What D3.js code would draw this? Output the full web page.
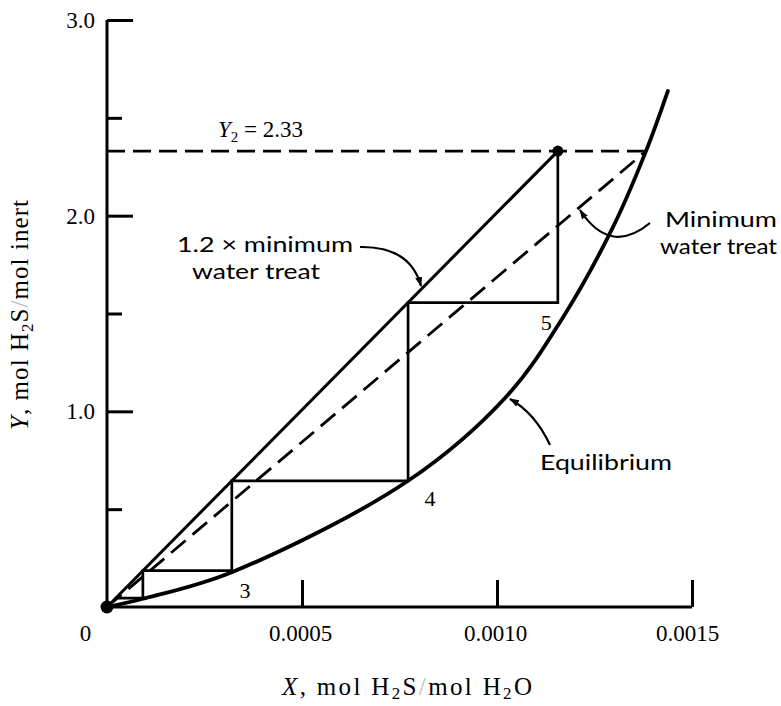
<!DOCTYPE html>
<html>
<head>
<meta charset="utf-8">
<script src="https://cdn.jsdelivr.net/npm/d3@7"></script>
<style>
  html, body { margin: 0; padding: 0; background: #fff; }
  svg { display: block; }
</style>
</head>
<body>
<svg id="chart" width="781" height="706"></svg>
<script>
// ---------- data ----------
const xTicks = [0, 0.0005, 0.0010, 0.0015];
const xTickLabels = ["0", "0.0005", "0.0010", "0.0015"];
const yTicks = [0.5, 1.0, 1.5, 2.0, 2.5, 3.0];
const yTickLabels = ["", "1.0", "", "2.0", "", "3.0"];

// equilibrium curve
const eqX = [0, 0.000092, 0.00032, 0.000772, 0.001026, 0.001169, 0.001297, 0.001382, 0.001438];
const eqY = [0, 0.042, 0.178, 0.645, 1.08, 1.48, 1.94, 2.33, 2.637];

// operating line at 1.2 x minimum water treat
const opX = [0, 0.001156];
const opY = [0, 2.33];

// minimum water treat line
const minX = [0, 0.001382];
const minY = [0, 2.33];

// Y2 value
const Y2 = 2.33;

// stage staircase
const stepX = [0.000025, 0.000092, 0.000092, 0.00032, 0.00032, 0.000772, 0.000772, 0.001156, 0.001156];
const stepY = [0.045, 0.045, 0.186, 0.186, 0.645, 0.645, 1.556, 1.556, 2.33];

// stage numbers
const stageLabels = ["3", "4", "5"];
const stageLabelX = [0.000354, 0.000828, 0.001126];
const stageLabelY = [0.087, 0.557, 1.456];

// ---------- drawing ----------
const svg = d3.select("#chart");
svg.append("rect").attr("width", 781).attr("height", 706).attr("fill", "#fff");

const x = d3.scaleLinear().domain([0, 0.0015]).range([107, 692]);
const y = d3.scaleLinear().domain([0, 3]).range([607, 20]);

const serif = "'Liberation Serif', 'Times New Roman', serif";
const sans = "Lato, 'Open Sans', sans-serif";

const defs = svg.append("defs");
defs.append("marker")
  .attr("id", "arrow")
  .attr("viewBox", "0 0 10 10")
  .attr("refX", 9).attr("refY", 5)
  .attr("markerWidth", 10).attr("markerHeight", 10)
  .attr("markerUnits", "userSpaceOnUse")
  .attr("orient", "auto")
  .append("path").attr("d", "M0,1.5 L10,5 L0,8.5 Z").attr("fill", "#000");

// Y axis
const yAxis = d3.axisLeft(y)
  .tickValues(yTicks)
  .tickSizeInner(-26)
  .tickSizeOuter(0)
  .tickPadding(12)
  .tickFormat((d, i) => yTickLabels[i]);
const gy = svg.append("g").attr("transform", "translate(107,0)").call(yAxis);
gy.select(".domain").attr("stroke", "#000").attr("stroke-width", 3)
  .attr("d", `M0,${y(0)}V${y(3)}`);
gy.selectAll(".tick line").attr("stroke", "#000").attr("stroke-width", 3)
  .attr("x2", (d, i) => yTickLabels[i] === "" ? 15 : 26);
gy.selectAll(".tick text")
  .attr("font-family", serif).attr("font-size", 23).attr("fill", "#000")
  .attr("x", -12);

// X axis
const xAxis = d3.axisBottom(x)
  .tickValues(xTicks)
  .tickSizeInner(-27)
  .tickSizeOuter(0)
  .tickPadding(10)
  .tickFormat((d, i) => xTickLabels[i]);
const gx = svg.append("g").attr("transform", `translate(0,${y(0)})`).call(xAxis);
gx.select(".domain").attr("stroke", "#000").attr("stroke-width", 3)
  .attr("d", `M${x(0)},0H${x(0.0015)}`);
gx.selectAll(".tick line").attr("stroke", "#000").attr("stroke-width", 3)
  .attr("y2", d => d === 0 ? 0 : -27);
gx.selectAll(".tick text")
  .attr("font-family", serif).attr("font-size", 23).attr("fill", "#000")
  .attr("y", 34).attr("dy", 0)
  .attr("x", d => d === 0 ? -22 : (d === 0.0015 ? -5 : -2));

// Axis titles
const yt = svg.append("text")
  .attr("transform", "translate(28,315) rotate(-90)")
  .attr("text-anchor", "middle")
  .attr("font-family", serif).attr("font-size", 25).attr("fill", "#000")
  .attr("textLength", 230).attr("lengthAdjust", "spacing");
yt.append("tspan").attr("font-style", "italic").text("Y");
yt.append("tspan").text(", mol H");
yt.append("tspan").attr("font-size", 17).attr("dy", 5).text("2");
yt.append("tspan").attr("dy", -5).text("S");
yt.append("tspan").attr("fill", "#bbb").text("/");
yt.append("tspan").text("mol inert");

const xt = svg.append("text")
  .attr("x", 407).attr("y", 695)
  .attr("text-anchor", "middle")
  .attr("font-family", serif).attr("font-size", 25).attr("fill", "#000")
  .attr("textLength", 250).attr("lengthAdjust", "spacing");
xt.append("tspan").attr("font-style", "italic").text("X");
xt.append("tspan").text(", mol H");
xt.append("tspan").attr("font-size", 17).attr("dy", 4).text("2");
xt.append("tspan").attr("dy", -4).text("S");
xt.append("tspan").attr("fill", "#bbb").text("/");
xt.append("tspan").text("mol H");
xt.append("tspan").attr("font-size", 17).attr("dy", 4).text("2");
xt.append("tspan").attr("dy", -4).text("O");

// Y2 dashed line
svg.append("line")
  .attr("x1", x(0)).attr("x2", x(minX[1]))
  .attr("y1", y(Y2)).attr("y2", y(Y2))
  .attr("stroke", "#000").attr("stroke-width", 2.6)
  .attr("stroke-dasharray", "18,8");

// minimum water line (dashed)
const lineGen = d3.line().x(d => x(d[0])).y(d => y(d[1]));
svg.append("path")
  .attr("d", lineGen(minX.map((v, i) => [v, minY[i]])))
  .attr("fill", "none").attr("stroke", "#000").attr("stroke-width", 2.8)
  .attr("stroke-dasharray", "19,9");

// operating line
svg.append("path")
  .attr("d", lineGen(opX.map((v, i) => [v, opY[i]])))
  .attr("fill", "none").attr("stroke", "#000").attr("stroke-width", 3);

// equilibrium curve
const eqLine = d3.line().x(d => x(d[0])).y(d => y(d[1])).curve(d3.curveCatmullRom.alpha(0.5));
svg.append("path")
  .attr("d", eqLine(eqX.map((v, i) => [v, eqY[i]])))
  .attr("fill", "none").attr("stroke", "#000").attr("stroke-width", 3.8)
  .attr("stroke-linecap", "round");

// staircase
svg.append("path")
  .attr("d", lineGen(stepX.map((v, i) => [v, stepY[i]])))
  .attr("fill", "none").attr("stroke", "#000").attr("stroke-width", 2.7)
  .attr("stroke-linejoin", "miter");

// dots
svg.append("circle").attr("cx", x(0)).attr("cy", y(0)).attr("r", 6.5).attr("fill", "#000");
svg.append("circle").attr("cx", x(opX[1])).attr("cy", y(opY[1])).attr("r", 5.5).attr("fill", "#000");

// stage labels
svg.selectAll("text.stage").data(stageLabels).enter().append("text")
  .attr("class", "stage")
  .attr("x", (d, i) => x(stageLabelX[i]))
  .attr("y", (d, i) => y(stageLabelY[i]))
  .attr("dy", "0.35em")
  .attr("text-anchor", "middle")
  .attr("font-family", serif).attr("font-size", 22).attr("fill", "#000")
  .text(d => d);

// Y2 label
const y2t = svg.append("text")
  .attr("x", 218).attr("y", 137)
  .attr("font-family", serif).attr("font-size", 23).attr("fill", "#000");
y2t.append("tspan").attr("font-style", "italic").text("Y");
y2t.append("tspan").attr("font-size", 15).attr("dy", 5).text("2");
y2t.append("tspan").attr("dy", -5).text(" = " + Y2.toFixed(2));

// annotation texts
function label(txt, lx, ly, len) {
  svg.append("text")
    .attr("x", lx).attr("y", ly)
    .attr("font-family", sans).attr("font-size", 21).attr("fill", "#000")
    .attr("textLength", len).attr("lengthAdjust", "spacingAndGlyphs")
    .text(txt);
}
label("1.2 \u00d7 minimum", 177, 252, 176);
label("water treat", 192, 279, 128);
label("Minimum", 665, 227, 112);
label("water treat", 660, 254, 117);
label("Equilibrium", 540, 470, 132);

// arrows
function arrow(d) {
  svg.append("path").attr("d", d)
    .attr("fill", "none").attr("stroke", "#000").attr("stroke-width", 2.2)
    .attr("marker-end", "url(#arrow)");
}
arrow("M360,247 Q410,246 421,286");
arrow("M650,223 Q610,256 580,210");
arrow("M550,445 Q535,413 510,399");
</script>
</body>
</html>
